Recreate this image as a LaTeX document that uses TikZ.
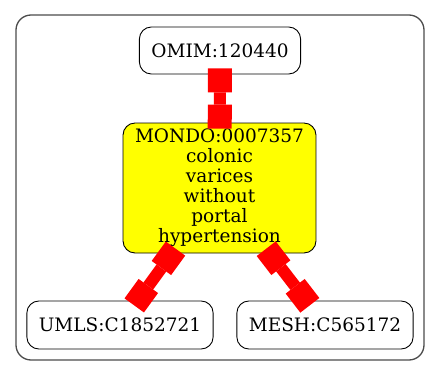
\documentclass[tikz,border=0pt]{standalone}
\usepackage{fontspec}
\setmainfont{DejaVu Serif}
\usepackage{tikz}
\usetikzlibrary{arrows.meta}

\definecolor{termyellow}{RGB}{255,255,0}
\definecolor{linkred}{RGB}{255,0,0}

\tikzset{
	term/.style={draw=black, line width=0.9pt, rounded corners=12pt, inner xsep=12pt, minimum height=48pt, align=center, font=\fontsize{18.5}{20}\selectfont},
	link/.style={draw=linkred, line width=12pt, {Square[length=24pt,width=24pt,line width=0pt]}-{Square[length=24pt,width=24pt,line width=0pt]}, shorten <=-6pt, shorten >=-6pt}
}

\begin{document}
\begin{tikzpicture}[x=1pt,y=1pt]
				\useasboundingbox (0,0) rectangle (440,376);
				\draw [black!70, line width=1.3pt, rounded corners=15pt] (16,16) rectangle (424,361);
				\node [term, minimum height=47pt] (omim) at (220,325.5) {OMIM:120440};
				\node [term, fill=termyellow, minimum height=130pt] (mondo) at (219.5,188) {MONDO:0007357\\colonic\\varices\\without\\portal\\hypertension};
				\node [term] (umls) at (120,51) {UMLS:C1852721};
				\node [term] (mesh) at (325,51) {MESH:C565172};
				\draw [link] (omim) -- (mondo);
				\draw [link] (mondo) -- (umls);
				\draw [link] (mondo) -- (mesh);
			\end{tikzpicture}
\end{document}
